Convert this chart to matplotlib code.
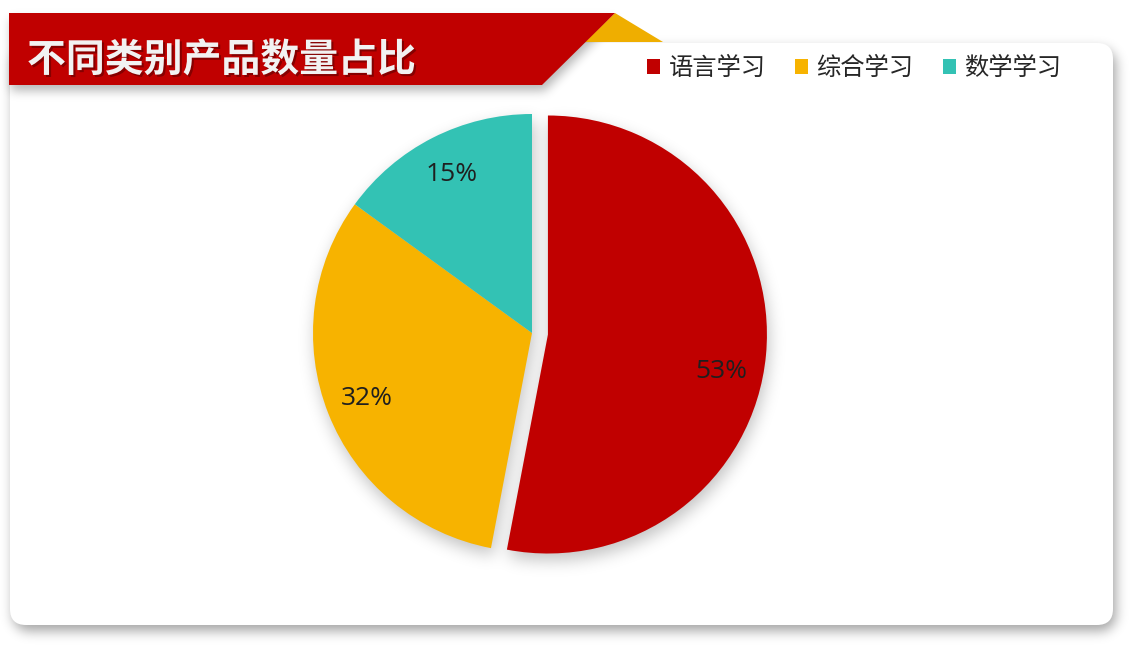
import numpy as np
import matplotlib
matplotlib.use("Agg")
import matplotlib.pyplot as plt
from matplotlib.patches import FancyBboxPatch, Polygon, Patch
import matplotlib.patheffects as pe

# ---------------- data ----------------
title = "不同类别产品数量占比"
categories = ["语言学习", "综合学习", "数学学习"]
values = [53, 32, 15]
colors = ["#C00000", "#F7B300", "#33C2B4"]
explode_px = [16, 0, 0]

W, H = 1130, 648
fig = plt.figure(figsize=(W / 100, H / 100), dpi=100, facecolor="white")
ax = fig.add_axes([0, 0, 1, 1])

def Y(y):  # pixel-from-top -> data y (up)
    return H - y

# ---------- helpers for soft shadows ----------
yy, xx = np.mgrid[0:H, 0:W] + 0.5

def blur(a, s):
    r = int(3 * s)
    k = np.exp(-0.5 * (np.arange(-r, r + 1) / s) ** 2)
    k /= k.sum()
    a = np.apply_along_axis(lambda m: np.convolve(m, k, "same"), 1, a)
    a = np.apply_along_axis(lambda m: np.convolve(m, k, "same"), 0, a)
    return a

def show_shadow(mask, sigma, alpha, z):
    a = blur(mask.astype(float), sigma) * alpha
    img = np.zeros((H, W, 4))
    img[..., 3] = np.clip(a, 0, 1)
    ax.imshow(img, extent=(0, W, 0, H), origin="upper", zorder=z,
              interpolation="bilinear", aspect="auto")

# card geometry (pixels from top-left)
cx0, cy0, cx1, cy1, cr = 10, 43, 1113, 625, 16

def rrect_mask(x0, y0, x1, y1, r, ox=0, oy=0):
    X = xx - ox
    Yp = yy - oy
    dx = np.maximum(np.maximum(x0 + r - X, 0), X - (x1 - r))
    dy = np.maximum(np.maximum(y0 + r - Yp, 0), Yp - (y1 - r))
    inside = (X >= x0) & (X <= x1) & (Yp >= y0) & (Yp <= y1)
    return inside & (dx ** 2 + dy ** 2 <= r ** 2)

show_shadow(rrect_mask(cx0, cy0, cx1, cy1, cr, 3, 6), 6, 0.36, 1)
card = FancyBboxPatch((cx0 + cr, Y(cy1) + cr), (cx1 - cx0) - 2 * cr, (cy1 - cy0) - 2 * cr,
                      boxstyle=f"round,pad={cr}", fc="white", ec="none", zorder=2)
ax.add_patch(card)

# banner
bx0, by0, bx1t, bx1b, by1 = 9, 13, 615, 542, 85
ban_mask = (yy >= by0) & (yy <= by1) & (xx >= bx0) & \
           (xx <= bx1t - (yy - by0) * (bx1t - bx1b) / (by1 - by0))
ban_sh = np.roll(np.roll(ban_mask, 6, axis=0), 2, axis=1)
show_shadow(ban_sh, 5, 0.28, 3)
gold_tri = Polygon([(615, Y(13)), (663, Y(42)), (585, Y(42))], closed=True,
                   fc="#EFAE00", ec="none", zorder=4)
ax.add_patch(gold_tri)
banner = Polygon([(bx0, Y(by0)), (bx1t, Y(by0)), (bx1b, Y(by1)), (bx0, Y(by1))],
                 closed=True, fc="#C00000", ec="none", zorder=5)
ax.add_patch(banner)
ax.text(27, Y(60), title, fontsize=28, fontweight="bold", color="#F2F2F2",
        family=["Noto Sans CJK SC", "DejaVu Sans"], ha="left", va="center", zorder=6,
        path_effects=[pe.withSimplePatchShadow(offset=(1.5, -1.5), shadow_rgbFace="black", alpha=0.3)])

# ---------------- pie ----------------
pcx, pcy, R = 532, 333, 219
fr = np.array(values, float) / np.sum(values)
start = 90.0
# pie shadow mask
pie_mask = np.zeros((H, W), bool)
t1 = start
sx, sy = 2, 7
for f, e in zip(fr, explode_px):
    t2 = t1 - 360 * f
    tm = np.radians((t1 + t2) / 2)
    ccx = pcx + e * np.cos(tm)
    ccy = pcy - e * np.sin(tm)
    a = np.degrees(np.arctan2(-(yy - sy - ccy), xx - sx - ccx)) % 360
    lo, hi = t2 % 360, t1 % 360
    if lo <= hi:
        insec = (a >= lo) & (a <= hi)
    else:
        insec = (a >= lo) | (a <= hi)
    inc = (xx - sx - ccx) ** 2 + (yy - sy - ccy) ** 2 <= R ** 2
    pie_mask |= insec & inc
    t1 = t2
show_shadow(pie_mask, 8, 0.24, 7)

wedges, texts, autotexts = ax.pie(
    values, colors=colors, startangle=start, counterclock=False,
    explode=explode_px, radius=R, center=(pcx, Y(pcy)),
    autopct=lambda p: f"{p:.0f}%", pctdistance=0.81,
    wedgeprops=dict(linewidth=0, zorder=8),
    textprops=dict(fontsize=19, color="#1F1F1F", family=["Open Sans", "DejaVu Sans"]))
for t in autotexts:
    t.set_zorder(9)
# largest slice label sits a little lower along its arc, as in the original
w0 = wedges[0]
ang0 = np.radians((w0.theta1 + w0.theta2) / 2 - 6.5)
autotexts[0].set_position((w0.center[0] + 0.81 * R * np.cos(ang0),
                           w0.center[1] + 0.81 * R * np.sin(ang0)))

# legend
handles = [Patch(fc=c, ec="none", label=l) for c, l in zip(colors, categories)]
leg = ax.legend(handles=handles, ncol=3, loc="center",
                bbox_to_anchor=(854 / W, 1 - 68 / H), bbox_transform=fig.transFigure,
                frameon=False, handlelength=0.55, handleheight=0.55, handletextpad=0.35,
                columnspacing=1.2, borderpad=0,
                prop=dict(family=["Noto Sans CJK SC", "DejaVu Sans"], size=17.5))
for t in leg.get_texts():
    t.set_color("#262626")
leg.set_zorder(10)

ax.set_xlim(0, W)
ax.set_ylim(0, H)
ax.set_aspect("auto")
ax.axis("off")
fig.savefig("out.png", dpi=100, facecolor="white")
